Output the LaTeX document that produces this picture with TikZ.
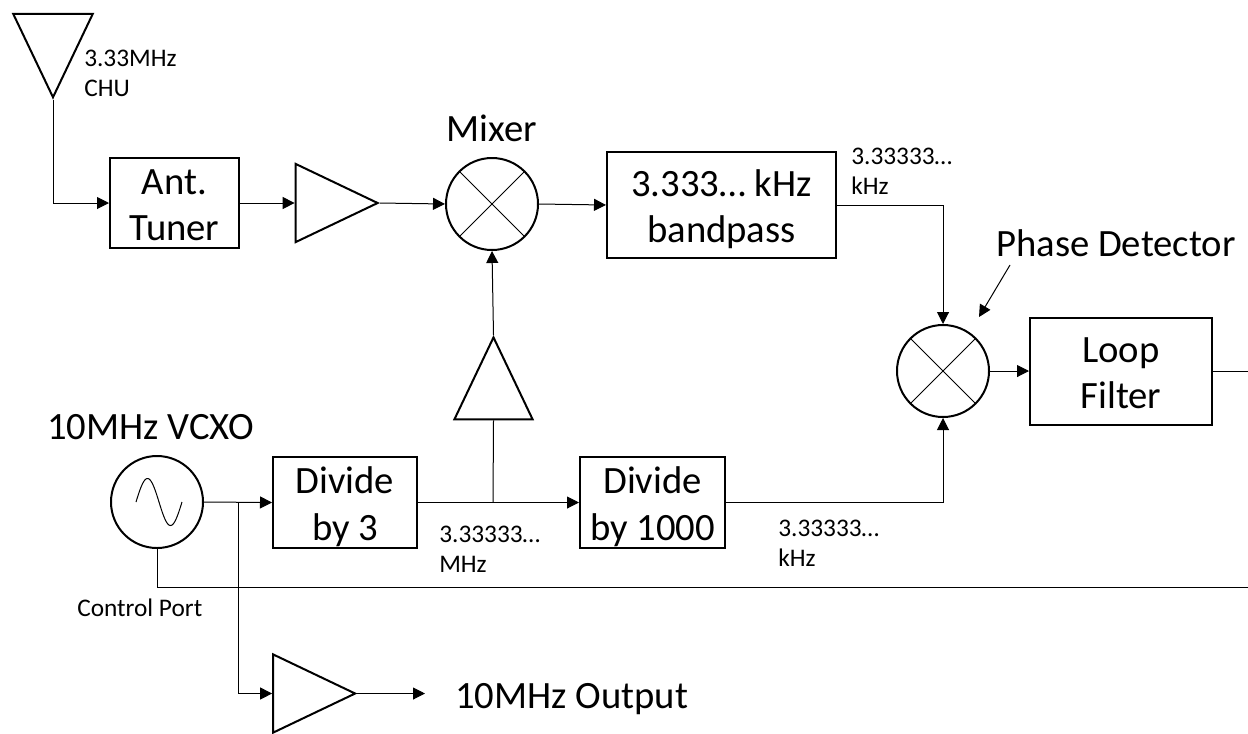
\documentclass[tikz,border=0pt]{standalone}
\usepackage{fontspec}
\setmainfont{Carlito}
\usetikzlibrary{arrows.meta,shapes.geometric}

\begin{document}
\begin{tikzpicture}[x=0.75pt,y=-0.75pt,
    >={Triangle[length=9pt,width=9pt]},
    wire/.style={line width=0.75pt},
    arrowwire/.style={wire,->},
    blockbox/.style={draw,line width=1.5pt,inner sep=0pt,align=center,text height=56.5pt,text depth=0pt,font=\fontsize{29pt}{35pt}\selectfont},
    roundblock/.style={draw,circle,line width=1.5pt,inner sep=0pt,minimum size=69pt},
    amp/.style={draw,isosceles triangle,isosceles triangle apex angle=51,inner sep=0pt,minimum height=61.5pt,line width=1.5pt},
    biglabel/.style={inner sep=0pt,font=\fontsize{29pt}{35pt}\selectfont},
    smalllabel/.style={inner sep=0pt,align=left,font=\fontsize{19pt}{22.5pt}\selectfont}]
    \useasboundingbox (0,0) rectangle (1248,733);
    % top row
    \node[amp,shape border rotate=270,minimum height=62.5pt] (antenna) at (53,39) {};
    \node[blockbox,minimum width=96.75pt,minimum height=67.5pt] (tuner) at (174.5,203) {Ant.\\Tuner};
    \node[amp] (rfamp) at (320.3,203) {};
    \node[roundblock] (mixer) at (492,204) {};
    \node[blockbox,minimum width=171.75pt,minimum height=79.5pt] (bandpass) at (721.5,205) {3.333… kHz\\bandpass};
    % phase detector and filter
    \node[roundblock] (detector) at (943,371) {};
    \node[blockbox,minimum width=136.5pt,minimum height=80.25pt] (loopfilter) at (1121,371) {Loop\\Filter};
    \coordinate (filterout) at (1248,371);
    % bottom row
    \node[roundblock] (vcxo) at (157,502) {};
    \node[blockbox,minimum width=108pt,minimum height=68.25pt] (divthree) at (345,502.5) {Divide\\by 3};
    \node[blockbox,minimum width=108.75pt,minimum height=68.25pt] (divthousand) at (652.5,502.5) {Divide\\by 1000};
    \node[amp,shape border rotate=90] (loamp) at (493.5,394.7) {};
    \node[amp] (outamp) at (297.8,693.5) {};
    \coordinate (split) at (238,502);
    \coordinate (tap) at (493,502);
    \coordinate (controlend) at (1248,587);
    \coordinate (outend) at (425,693.5);
    % crosses
    \draw[wire] (mixer.45)--(mixer.225) (mixer.135)--(mixer.315);
    \draw[wire] (detector.45)--(detector.225) (detector.135)--(detector.315);
    \draw[wire,xshift=1.5pt,domain=-23:23,samples=60,smooth] plot ({\x+157},{502+23.5*sin(\x*360/46)});
    % connectors
    \draw[arrowwire] (antenna.apex)|-(tuner.west);
    \draw[arrowwire] (tuner.east)--(rfamp.lower side);
    \draw[arrowwire] (rfamp.apex)--(mixer.west);
    \draw[arrowwire] (mixer.east)--(bandpass.west);
    \draw[arrowwire] (bandpass.east)-|(detector.north);
    \draw[arrowwire] (detector.east)--(loopfilter.west);
    \draw[wire] (loopfilter.east)--(filterout);
    \draw[arrowwire] (vcxo.east)--(divthree.west);
    \draw[arrowwire] (split)|-(outamp.lower side);
    \draw[wire] (vcxo.south)|-(controlend);
    \draw[arrowwire] (outamp.apex)--(outend);
    \draw[arrowwire] (divthree.east)--(divthousand.west);
    \draw[wire] (tap)--(loamp.lower side);
    \draw[arrowwire] (loamp.apex)--(mixer.south);
    \draw[arrowwire] (divthousand.east)-|(detector.south);
    % labels
    \node[smalllabel,anchor=west] (chulabel) at (84,73) {3.33MHz\\CHU};
    \node[biglabel] (mixerlabel) at (492,128) {Mixer};
    \node[smalllabel,anchor=west] (bpflabel) at (851,171) {3.33333…\\kHz};
    \node[biglabel,anchor=west] (detlabel) at (996,243) {Phase Detector};
    \coordinate (detarrow) at (1010,265);
    \coordinate (dettip) at (979,317);
    \draw[arrowwire] (detarrow)--(dettip);
    \node[biglabel,anchor=west] (vcxolabel) at (47,427) {10MHz VCXO};
    \node[smalllabel,anchor=west] (mhzlabel) at (439,549) {3.33333…\\MHz};
    \node[smalllabel,anchor=west] (khzlabel) at (778,543) {3.33333…\\kHz};
    \node[smalllabel,anchor=west] (portlabel) at (77,608) {Control Port};
    \node[biglabel,anchor=west] (outlabel) at (455,699) {10MHz Output};
\end{tikzpicture}
\end{document}
